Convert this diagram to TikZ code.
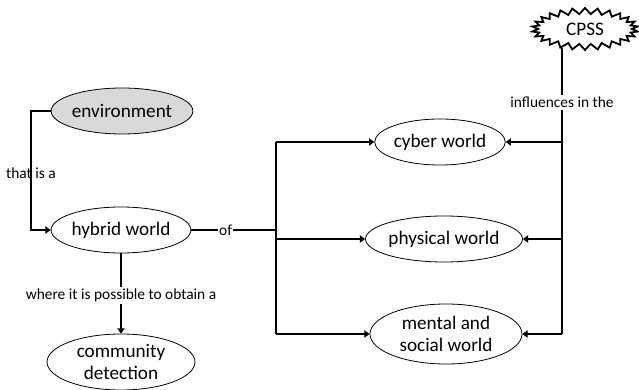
\documentclass[tikz,border=0pt]{standalone}
\usepackage{fontspec}
\setmainfont{Carlito}
\usepackage{tikz}
\usetikzlibrary{arrows.meta,shapes.geometric,shapes.symbols}
\definecolor{envgray}{RGB}{217,217,217}

\begin{document}
\begin{tikzpicture}[x=0.5pt,y=-0.5pt,
  concept/.style={ellipse,draw,line width=0.4pt,inner sep=0pt,align=center,
    font=\fontsize{9.6}{11}\selectfont},
  link/.style={line width=0.65pt},
  arr/.style={link,-{Triangle[length=2.6pt,width=3.6pt]}},
  lbl/.style={inner sep=1pt,font=\fontsize{7.7}{9}\selectfont}]
\useasboundingbox (0,0) rectangle (639,390);
\node[concept,fill=envgray,minimum width=68pt,minimum height=23pt] (env) at (122,111) {environment};
\node[concept,minimum width=68pt,minimum height=23pt] (hybrid) at (121,230) {hybrid world};
\node[concept,minimum width=74pt,minimum height=28pt] (comm) at (121,362) {community\\detection};
\node[concept,minimum width=65pt,minimum height=23pt] (cyber) at (440,142) {cyber world};
\node[concept,minimum width=74pt,minimum height=23pt] (phys) at (444,239) {physical world};
\node[concept,minimum width=76pt,minimum height=30pt] (mental) at (446,334) {mental and\\social world};
\node[starburst,draw,line width=0.9pt,starburst points=26,starburst point height=3pt,
  random starburst=0,inner sep=0pt,minimum width=53pt,minimum height=21pt,
  font=\fontsize{9.6}{11}\selectfont] (cpss) at (585,29) {CPSS};
\coordinate (envbend) at (31,111);
\coordinate (ofjoin) at (277,230);
\coordinate (cybL) at (276,142);
\coordinate (physL) at (276,239);
\coordinate (mentL) at (276,334);
\coordinate (cpsfoot) at (562,48);
\coordinate (cybR) at (562,142);
\coordinate (physR) at (562,239);
\coordinate (mentR) at (562,334);
\draw[arr] (env.west) -- (envbend) |- node[lbl,pos=0.26]{that is a} (hybrid.west);
\draw[arr] (hybrid.south) -- node[lbl,fill=white,pos=0.52]{where it is possible to obtain a} (comm.north);
\draw[link] (hybrid.east) -- node[lbl,fill=white,pos=0.4,inner sep=0.5pt]{of} (ofjoin);
\draw[link] (cybL) -- (mentL);
\draw[arr] (cybL) -- (cyber.west);
\draw[arr] (physL) -- (phys.west);
\draw[arr] (mentL) -- (mental.west);
\draw[link] (cpsfoot) -- node[lbl,fill=white,pos=0.19]{influences in the} (mentR);
\draw[arr] (cybR) -- (cyber.east);
\draw[arr] (physR) -- (phys.east);
\draw[arr] (mentR) -- (mental.east);
\end{tikzpicture}
\end{document}
